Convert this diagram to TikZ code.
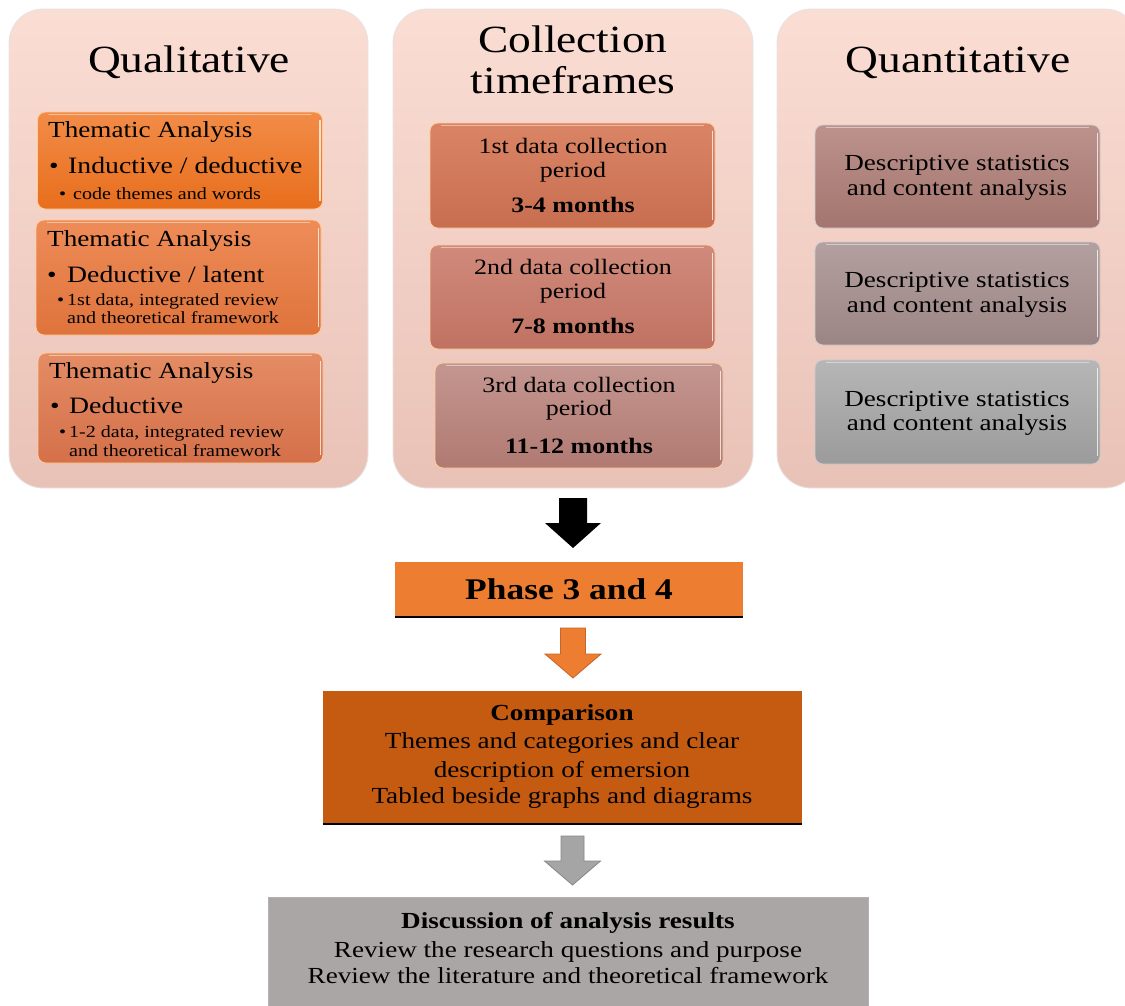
\documentclass[tikz,border=0pt]{standalone}
\usepackage{fontspec}
\setmainfont{Liberation Serif}
\usepackage{graphicx}
\usetikzlibrary{calc}
\newcommand\sx[1]{\scalebox{1.18}[1]{#1}}
\newcommand\fsz[1]{\fontsize{#1}{#1}\selectfont}
\newcommand\barrow[6]{\path[#1] (#2) ++(-#3,0) -- ++({2*#3},0) -- ++(0,#5) -- ++({#4-#3},0) -- ++({-#4},#6) -- ++({-#4},{-#6}) -- ++({#4-#3},0) -- cycle;}
\definecolor{pnltop}{HTML}{FADDD3}
\definecolor{pnlbot}{HTML}{E9C2B7}
\definecolor{phasec}{HTML}{ED7D31}
\definecolor{compc}{HTML}{C55A11}
\definecolor{discc}{HTML}{AAA6A6}
\tikzset{
  panel/.style={rectangle, rounded corners=34pt, top color=pnltop, bottom color=pnlbot, draw=white!80!gray, line width=0.8pt, inner sep=0pt},
  ibox/.style={rectangle, rounded corners=8pt, draw=white!60!#1, line width=0.8pt, inner sep=0pt, minimum width=285pt},
  tx/.style={inner sep=0pt, text=black},
  hl/.style={white, line width=1.6pt, opacity=0.75, line cap=round},
  flat/.style={rectangle, inner sep=0pt},
}
\begin{document}
\begin{tikzpicture}[x=1pt,y=-1pt]
\useasboundingbox (0,0) rectangle (1125,1005);
\clip (0,0) rectangle (1125,1005);
\fill[white] (0,0) rectangle (1125,1005);

% panels
\node[panel, minimum width=359pt, minimum height=479pt] (qual) at (188.5,248.5) {};
\node[panel, minimum width=360pt, minimum height=479pt] (coll) at (573,248.5) {};
\node[panel, minimum width=362pt, minimum height=479pt] (quan) at (958,248.5) {};

% left boxes
\node[ibox=orange, minimum height=97pt, top color={rgb,255:red,242;green,140;blue,72}, bottom color={rgb,255:red,232;green,110;blue,28}] (lb1) at (180,160.5) {};
\node[ibox=orange, minimum height=115pt, top color={rgb,255:red,238;green,140;blue,88}, bottom color={rgb,255:red,223;green,115;blue,60}] (lb2) at (178.5,277.5) {};
\node[ibox=orange, minimum height=110pt, top color={rgb,255:red,228;green,140;blue,100}, bottom color={rgb,255:red,212;green,112;blue,74}] (lb3) at (180.5,408) {};

% middle boxes
\node[ibox=orange, minimum height=105pt, top color={rgb,255:red,218;green,132;blue,102}, bottom color={rgb,255:red,200;green,110;blue,80}] (mb1) at (572.5,175.5) {};
\node[ibox=orange, minimum height=104pt, top color={rgb,255:red,208;green,138;blue,123}, bottom color={rgb,255:red,192;green,114;blue,98}] (mb2) at (572.5,297) {};
\node[ibox=orange, minimum width=288pt, minimum height=105pt, top color={rgb,255:red,196;green,150;blue,144}, bottom color={rgb,255:red,176;green,122;blue,114}] (mb3) at (579,415.5) {};

% right boxes
\node[ibox=gray, minimum height=103pt, top color={rgb,255:red,188;green,146;blue,140}, bottom color={rgb,255:red,164;green,117;blue,111}] (rb1) at (957.5,176.5) {};
\node[ibox=gray, minimum height=103pt, top color={rgb,255:red,180;green,160;blue,160}, bottom color={rgb,255:red,155;green,132;blue,132}] (rb2) at (957.5,293.5) {};
\node[ibox=gray, minimum height=104pt, top color={rgb,255:red,182;green,182;blue,182}, bottom color={rgb,255:red,155;green,155;blue,155}] (rb3) at (957.5,412) {};

% bevel highlights
\foreach \b in {lb1,lb2,lb3,mb1,mb2,mb3,rb1,rb2,rb3}{
  \draw[hl] ([xshift=-3pt,yshift=-9pt]\b.north east) -- ([xshift=-3pt,yshift=9pt]\b.south east);
  \draw[hl, opacity=0.45] ([xshift=12pt,yshift=-3pt]\b.north west) -- ([xshift=-12pt,yshift=-3pt]\b.north east);
}

% titles
\node[tx, anchor=base, font=\fsz{38.5}] (t1) at (189,72) {\sx{Qualitative}};
\node[tx, anchor=base, font=\fsz{38.5}] (t2a) at (573,52) {\sx{Collection}};
\node[tx, anchor=base, font=\fsz{38.5}] (t2b) at (573,93) {\sx{timeframes}};
\node[tx, anchor=base, font=\fsz{38.5}] (t3) at (958,72) {\sx{Quantitative}};

% left box 1
\node[tx, anchor=base west, font=\fsz{23}] (l1a) at (48,137) {\sx{Thematic Analysis}};
\node[tx, anchor=base west, font=\fsz{23}] (l1b) at (49,173) {\sx{•}};
\node[tx, anchor=base west, font=\fsz{23.5}] (l1c) at (68,173) {\sx{Inductive / deductive}};
\node[tx, anchor=base west, font=\fsz{17}] (l1d) at (59,199) {\sx{•}};
\node[tx, anchor=base west, font=\fsz{17}] (l1e) at (73,199) {\sx{code themes and words}};
% left box 2
\node[tx, anchor=base west, font=\fsz{23}] (l2a) at (47,246) {\sx{Thematic Analysis}};
\node[tx, anchor=base west, font=\fsz{23}] (l2b) at (47,282) {\sx{•}};
\node[tx, anchor=base west, font=\fsz{23.5}] (l2c) at (67,282) {\sx{Deductive / latent}};
\node[tx, anchor=base west, font=\fsz{17}] (l2d) at (57,305) {\sx{•}};
\node[tx, anchor=base west, font=\fsz{17}] (l2e) at (67,305) {\sx{1st data, integrated  review}};
\node[tx, anchor=base west, font=\fsz{17}] (l2f) at (67,323) {\sx{and theoretical  framework}};
% left box 3
\node[tx, anchor=base west, font=\fsz{23}] (l3a) at (49,378) {\sx{Thematic Analysis}};
\node[tx, anchor=base west, font=\fsz{23}] (l3b) at (50,413) {\sx{•}};
\node[tx, anchor=base west, font=\fsz{23.5}] (l3c) at (69,413) {\sx{Deductive}};
\node[tx, anchor=base west, font=\fsz{17}] (l3d) at (59,437) {\sx{•}};
\node[tx, anchor=base west, font=\fsz{17}] (l3e) at (69,437) {\sx{1-2 data, integrated  review}};
\node[tx, anchor=base west, font=\fsz{17}] (l3f) at (69,456) {\sx{and theoretical  framework}};

% middle texts
\node[tx, anchor=base, font=\fsz{22}] (m1a) at (573,153) {\sx{1st data collection}};
\node[tx, anchor=base, font=\fsz{22}] (m1b) at (573,177) {\sx{period}};
\node[tx, anchor=base, font=\fsz{22}\bfseries] (m1c) at (573,212) {\sx{3-4 months}};
\node[tx, anchor=base, font=\fsz{22}] (m2a) at (573,274) {\sx{2nd data collection}};
\node[tx, anchor=base, font=\fsz{22}] (m2b) at (573,298) {\sx{period}};
\node[tx, anchor=base, font=\fsz{22}\bfseries] (m2c) at (573,333) {\sx{7-8 months}};
\node[tx, anchor=base, font=\fsz{22}] (m3a) at (579,392) {\sx{3rd data collection}};
\node[tx, anchor=base, font=\fsz{22}] (m3b) at (579,415) {\sx{period}};
\node[tx, anchor=base, font=\fsz{22}\bfseries] (m3c) at (579,453) {\sx{11-12 months}};

% right texts
\node[tx, anchor=base, font=\fsz{23}] (r1a) at (957,170) {\sx{Descriptive  statistics}};
\node[tx, anchor=base, font=\fsz{23}] (r1b) at (957,195) {\sx{and content analysis}};
\node[tx, anchor=base, font=\fsz{23}] (r2a) at (957,287) {\sx{Descriptive  statistics}};
\node[tx, anchor=base, font=\fsz{23}] (r2b) at (957,312) {\sx{and content analysis}};
\node[tx, anchor=base, font=\fsz{23}] (r3a) at (957,406) {\sx{Descriptive  statistics}};
\node[tx, anchor=base, font=\fsz{23}] (r3b) at (957,430) {\sx{and content analysis}};

% bottom boxes
\node[flat, fill=phasec, minimum width=348pt, minimum height=55pt] (phase) at (569,589.5) {};
\draw[line width=2pt] (phase.south west) -- (phase.south east);
\node[flat, fill=compc, minimum width=479pt, minimum height=133pt] (comp) at (562.5,757.5) {};
\draw[line width=2pt] (comp.south west) -- (comp.south east);
\node[flat, fill=discc, draw=gray!60!white, line width=0.6pt, minimum width=600pt, minimum height=118pt] (disc) at (568,956) {};

\node[tx, anchor=base, font=\fsz{30}\bfseries] (ph) at (569,599) {\sx{Phase 3 and 4}};
\node[tx, anchor=base, font=\fsz{23}\bfseries] (c1) at (562,720) {\sx{Comparison}};
\node[tx, anchor=base, font=\fsz{23}] (c2) at (562,748) {\sx{Themes and categories  and clear}};
\node[tx, anchor=base, font=\fsz{23}] (c3) at (562,777) {\sx{description of emersion}};
\node[tx, anchor=base, font=\fsz{23}] (c4) at (562,803) {\sx{Tabled  beside graphs and diagrams}};
\node[tx, anchor=base, font=\fsz{23}\bfseries] (d1) at (568,928) {\sx{Discussion of analysis results}};
\node[tx, anchor=base, font=\fsz{23}] (d2) at (568,957) {\sx{Review  the research questions and purpose}};
\node[tx, anchor=base, font=\fsz{23}] (d3) at (568,983) {\sx{Review  the literature  and theoretical  framework}};

% block arrows
\coordinate (a1) at (573,498);
\coordinate (a2) at (573,628);
\coordinate (a3) at (572.5,836);
\barrow{fill=black}{a1}{14}{28}{25}{25}
\barrow{fill=phasec, draw={rgb,255:red,200;green,100;blue,40}, line width=0.8pt, line join=miter}{a2}{12.5}{28}{26}{24}
\barrow{fill={rgb,255:red,165;green,165;blue,165}, draw={rgb,255:red,135;green,135;blue,135}, line width=0.8pt}{a3}{11.5}{28}{25}{24}
\end{tikzpicture}
\end{document}
